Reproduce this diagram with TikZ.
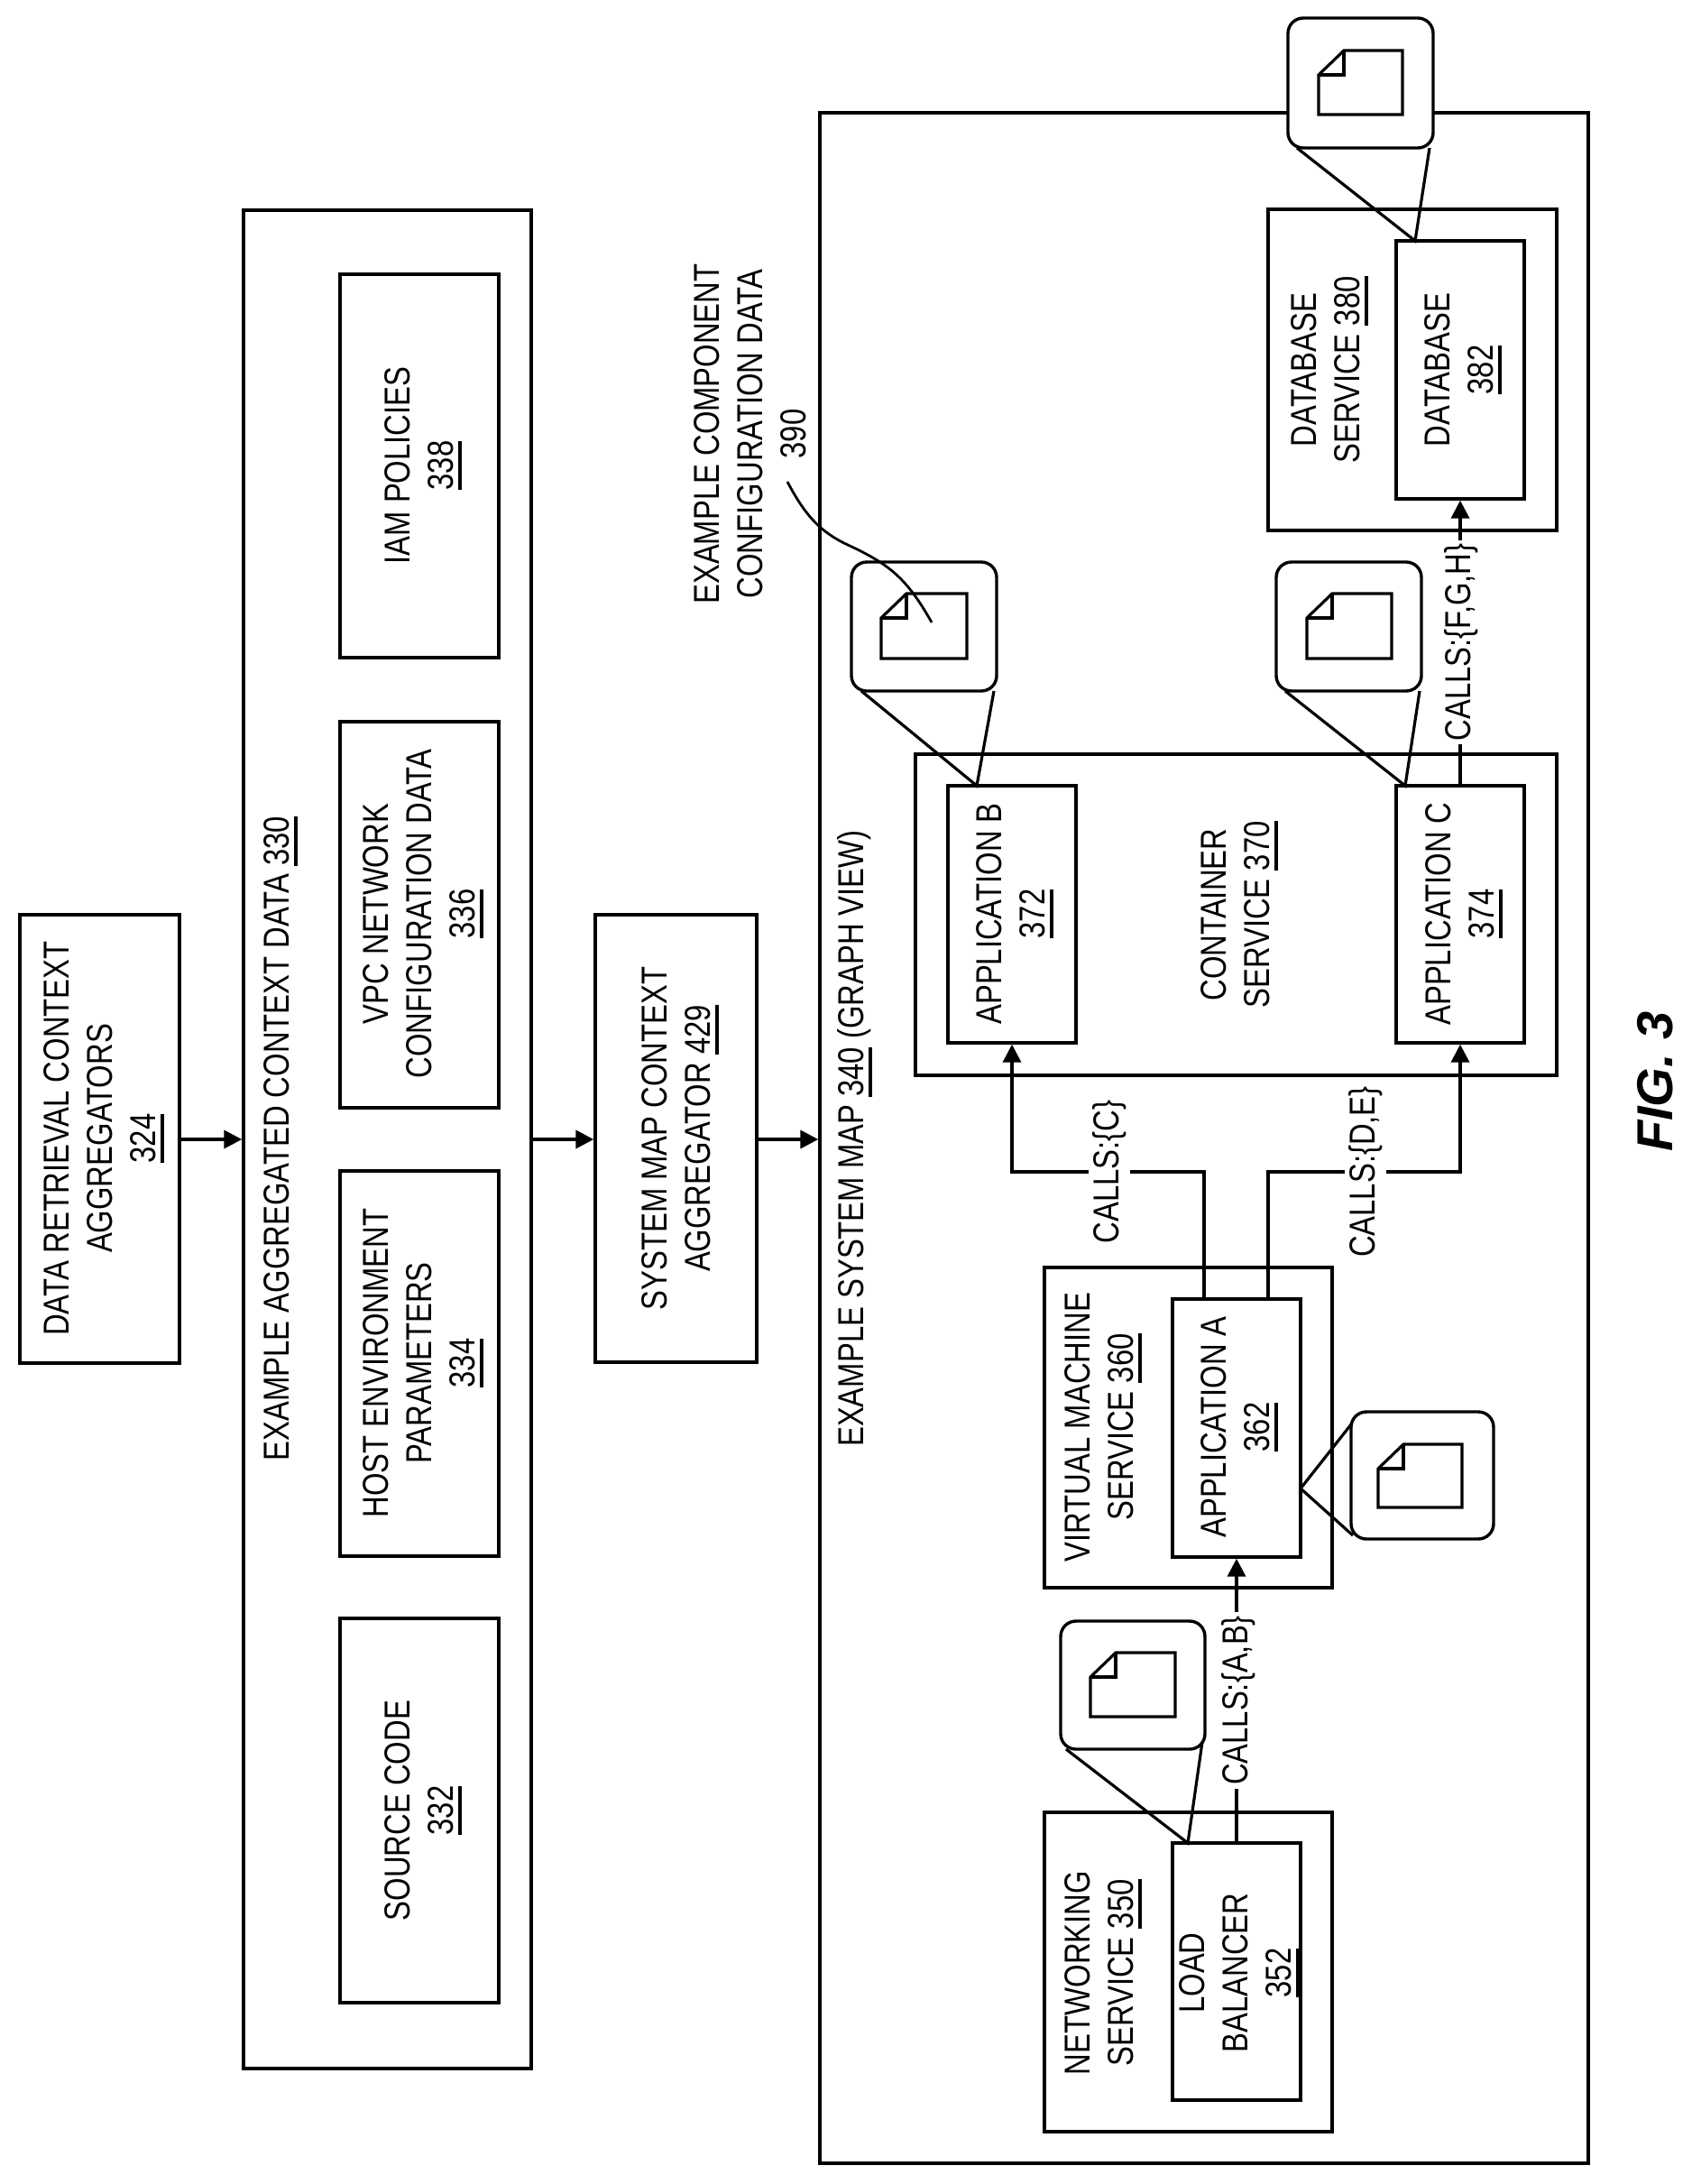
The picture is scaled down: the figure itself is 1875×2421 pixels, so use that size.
\documentclass[tikz,border=0pt]{standalone}
\usepackage{fontspec}
\setmainfont[FakeStretch=0.82]{Liberation Sans}
\newfontfamily\figfont{Liberation Sans}
\usetikzlibrary{arrows.meta,fit,calc}
\newcommand{\ulnum}[1]{\setbox0=\hbox{#1}\leavevmode\rlap{\smash{\rule[-4.8pt]{\wd0}{2.2pt}}}\box0\relax}
\tikzset{
  x=0.5pt,y=-0.5pt,
  box/.style={draw=black,line width=1.7pt,inner sep=0pt,fill=white},
  callbox/.style={draw=black,line width=1.7pt,inner sep=0pt,fill=white,rounded corners=8.5pt},
  txt/.style={rotate=90,align=center,font=\fontsize{20}{24}\selectfont,inner sep=0pt},
  lbl/.style={txt,fill=white,inner ysep=2pt,inner xsep=2pt},
  conn/.style={draw=black,line width=1.8pt},
  arr/.style={conn,-{Triangle[length=10pt,width=10pt]}},
  lead/.style={draw=black,line width=1.4pt},
  pin/.style={draw=black,line width=1.6pt},
  docline/.style={draw=black,line width=1.6pt,line join=miter},
}
\newcommand{\docicon}[4]{%
  \draw[docline] (#1+28,#2) -- (#3,#2) -- (#3,#4) -- (#1,#4) -- (#1,#2+27) -- cycle;
  \draw[docline] (#1+28,#2) -- (#1+28,#2+27) -- (#1,#2+27);
}
\begin{document}
\begin{tikzpicture}
\useasboundingbox (0,0) rectangle (1875,2421);
% left blocks
\node[box,fit={(22,1014)(199,1511)}] (dr) {};
\node[txt] (drt) at (111,1262) {DATA RETRIEVAL CONTEXT\\AGGREGATORS\\\ulnum{324}};
\node[box,fit={(270,233)(589,2293)}] (agg) {};
\node[txt] (aggt) at (307,1262) {EXAMPLE AGGREGATED CONTEXT DATA \ulnum{330}};
\node[box,fit={(377,1794)(553,2220)}] (src) {};
\node[txt] (srct) at (465,2007) {SOURCE CODE\\\ulnum{332}};
\node[box,fit={(377,1298)(553,1725)}] (host) {};
\node[txt] (hostt) at (465,1511) {HOST ENVIRONMENT\\PARAMETERS\\\ulnum{334}};
\node[box,fit={(377,800)(553,1228)}] (vpc) {};
\node[txt] (vpct) at (465,1013) {VPC NETWORK\\CONFIGURATION DATA\\\ulnum{336}};
\node[box,fit={(377,304)(553,729)}] (iam) {};
\node[txt] (iamt) at (465,516) {IAM POLICIES\\\ulnum{338}};
\node[box,fit={(660,1014)(839,1510)}] (sm) {};
\node[txt] (smt) at (750,1262) {SYSTEM MAP CONTEXT\\AGGREGATOR \ulnum{429}};
% outer map
\node[box,fit={(909,125)(1761,2398)}] (map) {};
\node[txt] (mapt) at (947,1262) {EXAMPLE SYSTEM MAP \ulnum{340} (GRAPH VIEW)};
\draw[arr] (dr.east |- 0,1263) -- (agg.west |- 0,1263);
\draw[arr] (agg.east |- 0,1263) -- (sm.west |- 0,1263);
\draw[arr] (sm.east |- 0,1263) -- (map.west |- 0,1263);
% services
\node[box,fit={(1158,2009)(1477,2363)}] (net) {};
\node[txt] (nett) at (1219,2187) {NETWORKING\\SERVICE \ulnum{350}};
\node[box,fit={(1300,2043)(1442,2328)}] (lb) {};
\node[txt] (lbt) at (1370,2187) {LOAD\\BALANCER\\\ulnum{352}};
\node[box,fit={(1158,1405)(1477,1760)}] (vm) {};
\node[txt] (vmt) at (1219,1582) {VIRTUAL MACHINE\\SERVICE \ulnum{360}};
\node[box,fit={(1300,1440)(1442,1726)}] (appa) {};
\node[txt] (appat) at (1370,1582) {APPLICATION A\\\ulnum{362}};
\node[box,fit={(1015,836)(1726,1192)}] (cont) {};
\node[txt] (contt) at (1370,1014) {CONTAINER\\SERVICE \ulnum{370}};
\node[box,fit={(1051,871)(1193,1156)}] (appb) {};
\node[txt] (appbt) at (1121,1013) {APPLICATION B\\\ulnum{372}};
\node[box,fit={(1548,871)(1690,1156)}] (appc) {};
\node[txt] (appct) at (1619,1013) {APPLICATION C\\\ulnum{374}};
\node[box,fit={(1406,232)(1726,588)}] (dbs) {};
\node[txt] (dbst) at (1470,410) {DATABASE\\SERVICE \ulnum{380}};
\node[box,fit={(1548,267)(1690,553)}] (db) {};
\node[txt] (dbt) at (1618,410) {DATABASE\\\ulnum{382}};
% connectors
\coordinate (ja) at (1335,1299);
\coordinate (jb) at (1406,1299);
\draw[arr] (ja |- appa.north) -- (ja) -| (appb.south);
\draw[arr] (jb |- appa.north) -- (jb) -| (appc.south);
\draw[arr] (lb.north) -- (appa.south);
\draw[arr] (appc.north) -- (db.south);
\node[lbl] (l1) at (1373,1885) {CALLS:\{A,B\}};
\node[lbl] (l2) at (1620,712) {CALLS:\{F,G,H\}};
\node[lbl] (l3) at (1230,1299) {CALLS:\{C\}};
\node[lbl] (l4) at (1514,1299) {CALLS:\{D,E\}};
% callouts
\node[callbox,fit={(1428,20)(1589,164)}] (c1) {};
\docicon{1462}{56}{1555}{127}
\coordinate (p1) at (1569,267);
\draw[pin] (1438,164) -- (p1) -- (1585,164);
\node[callbox,fit={(944,623)(1105,766)}] (c2) {};
\docicon{977}{658}{1072}{730}
\coordinate (p2) at (1083,871);
\draw[pin] (955,766) -- (p2) -- (1102,766);
\node[callbox,fit={(1415,623)(1576,766)}] (c3) {};
\docicon{1449}{658}{1543}{730}
\coordinate (p3) at (1558,871);
\draw[pin] (1425,766) -- (p3) -- (1574,766);
\node[callbox,fit={(1498,1565)(1656,1706)}] (c4) {};
\docicon{1528}{1601}{1621}{1671}
\coordinate (p4) at (1442,1650);
\draw[pin] (1498,1579) -- (p4) -- (1500,1702);
\node[callbox,fit={(1176,1797)(1336,1939)}] (c5) {};
\docicon{1209}{1832}{1303}{1903}
\coordinate (p5) at (1317,2043);
\draw[pin] (1182,1939) -- (p5) -- (1333,1931);
% leader
\node[txt] (cfg) at (832,481) {EXAMPLE COMPONENT\\CONFIGURATION DATA\\390};
\coordinate (lead0) at (873,534);
\coordinate (leadm) at (940,604);
\coordinate (lead1) at (1033,690);
\draw[lead] (lead0) .. controls (893,572) and (910,590) .. (leadm) .. controls (985,625) and (1005,640) .. (lead1);
% figure
\node[rotate=90,inner sep=0pt,font=\figfont\fontsize{28}{30}\selectfont\bfseries\itshape] (fig) at (1835,1199) {FIG. 3};
\end{tikzpicture}
\end{document}
